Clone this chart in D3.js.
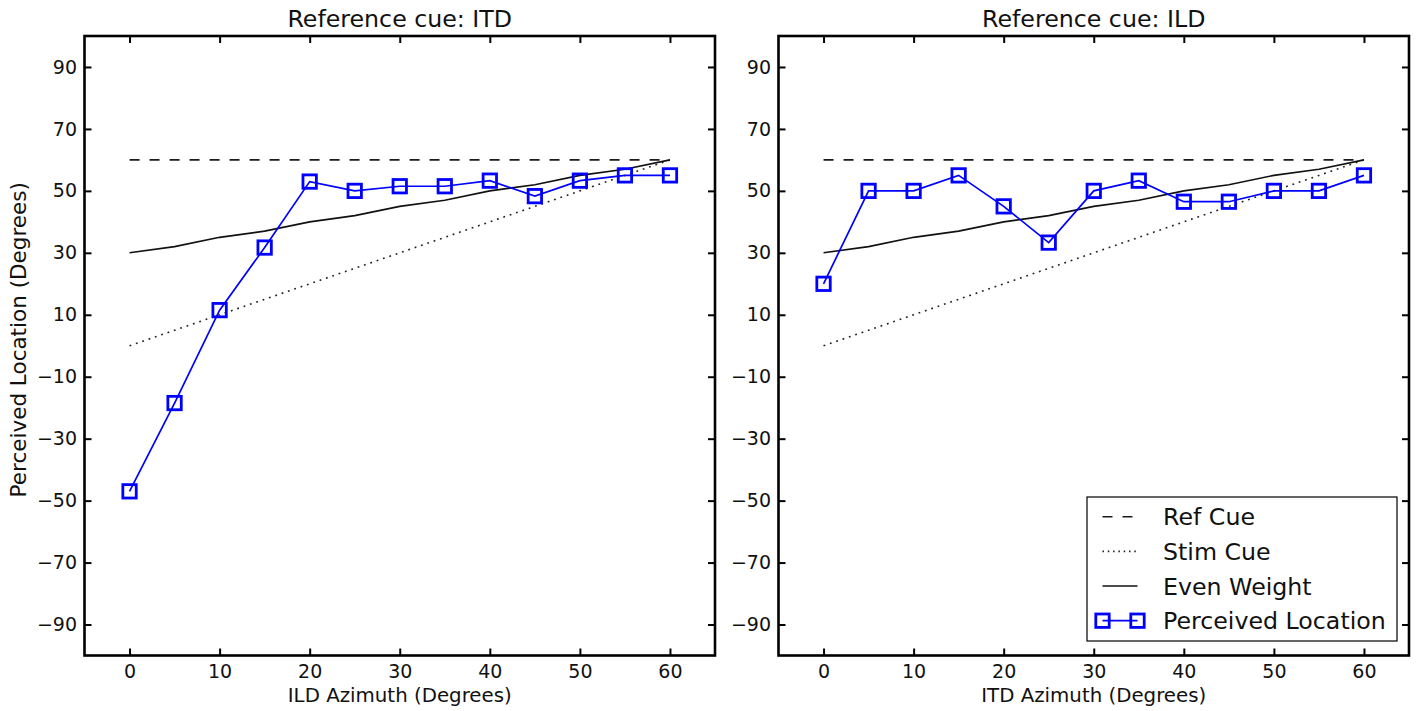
<!DOCTYPE html>
<html>
<head>
<meta charset="utf-8">
<script src="https://cdn.jsdelivr.net/npm/d3@7"></script>
<style>
  body { margin: 0; background: #fff; }
  text { font-family: "DejaVu Sans", sans-serif; fill: #111; }
</style>
</head>
<body>
<script>
// data
var azimuth = [0, 5, 10, 15, 20, 25, 30, 35, 40, 45, 50, 55, 60];
var refCue = [60, 60, 60, 60, 60, 60, 60, 60, 60, 60, 60, 60, 60];
var stimCue = [0, 5, 10, 15, 20, 25, 30, 35, 40, 45, 50, 55, 60];
var evenWeight = [30, 32, 35, 37, 40, 42, 45, 47, 50, 52, 55, 57, 60];
var perceivedITD = [-47, -18.5, 11.5, 31.7, 53, 50, 51.5, 51.5, 53.3, 48.3, 53.3, 55, 55];
var perceivedILD = [20, 50, 50, 55, 45, 33.3, 50, 53.3, 46.5, 46.5, 50, 50, 55];
var xTicks = [0, 10, 20, 30, 40, 50, 60];
var yTicks = [-90, -70, -50, -30, -10, 10, 30, 50, 70, 90];
var titles = ["Reference cue: ITD", "Reference cue: ILD"];
var xLabels = ["ILD Azimuth (Degrees)", "ITD Azimuth (Degrees)"];
var legendNames = ["Ref Cue", "Stim Cue", "Even Weight", "Perceived Location"];

var W = 1416, H = 711;
var pw = 630.5, ph = 619.5, plotTop = 36;
var lefts = [84.5, 778.5];
var mk = 13.4;

var svg = d3.select("body")
            .append("svg")
            .attr("width", W)
            .attr("height", H);

var xScale = d3.scaleLinear().domain([-5, 65]).range([0, pw]);
var yScale = d3.scaleLinear().domain([-100, 100]).range([ph, 0]);

var styles = {
    "Ref Cue": {dash: "10,10", width: 1.6, color: "#1a1a1a"},
    "Stim Cue": {dash: "1.8,4.9", width: 1.6, color: "#222"},
    "Even Weight": {dash: null, width: 1.6, color: "#111"},
    "Perceived Location": {dash: null, width: 1.7, color: "#0000ff"}
};

var line = d3.line()
             .x(d => xScale(d[0]))
             .y(d => yScale(d[1]));

var drawSeries = function(g, name, values) {
    var st = styles[name];
    var pts = d3.zip(azimuth, values);
    g.append("path")
     .datum(pts)
     .attr("d", line)
     .attr("fill", "none")
     .attr("stroke", st.color)
     .attr("stroke-width", st.width)
     .attr("stroke-dasharray", st.dash);
    if (name == "Perceived Location") {
        g.selectAll("rect.mk")
         .data(pts)
         .enter()
         .append("rect")
         .attr("class", "mk")
         .attr("x", d => xScale(d[0]) - mk / 2)
         .attr("y", d => yScale(d[1]) - mk / 2)
         .attr("width", mk)
         .attr("height", mk)
         .attr("fill", "none")
         .attr("stroke", st.color)
         .attr("stroke-width", 2.8);
    }
};

var perceived = [perceivedITD, perceivedILD];

for (var p = 0; p < 2; p++) {
    var g = svg.append("g")
               .attr("transform", "translate(" + lefts[p] + "," + plotTop + ")");

    drawSeries(g, "Ref Cue", refCue);
    drawSeries(g, "Stim Cue", stimCue);
    drawSeries(g, "Even Weight", evenWeight);
    drawSeries(g, "Perceived Location", perceived[p]);

    // axes, ticks pointing inward
    var bottomAx = g.append("g")
                  .attr("transform", "translate(0," + ph + ")")
                  .call(d3.axisBottom(xScale).tickValues(xTicks).tickSize(-7).tickPadding(9));
    var leftAx = g.append("g")
                .call(d3.axisLeft(yScale).tickValues(yTicks).tickSize(-7).tickPadding(7.5));
    var topAx = g.append("g")
                 .call(d3.axisTop(xScale).tickValues(xTicks).tickSize(-7).tickFormat(""));
    var rightAx = g.append("g")
                   .attr("transform", "translate(" + pw + ",0)")
                   .call(d3.axisRight(yScale).tickValues(yTicks).tickSize(-7).tickFormat(""));

    [bottomAx, leftAx, topAx, rightAx].forEach(function(a) {
        a.select(".domain").remove();
        a.selectAll(".tick line").attr("stroke", "#000").attr("stroke-width", 2);
        a.selectAll(".tick text")
         .style("font-family", "DejaVu Sans")
         .style("font-size", "19px")
         .attr("fill", "#111");
    });

    g.append("rect")
     .attr("width", pw)
     .attr("height", ph)
     .attr("fill", "none")
     .attr("stroke", "#000")
     .attr("stroke-width", 2.6);

    g.append("text")
     .attr("x", pw / 2)
     .attr("y", -9)
     .attr("text-anchor", "middle")
     .style("font-size", "23.7px")
     .text(titles[p]);

    g.append("text")
     .attr("x", pw / 2)
     .attr("y", ph + 46)
     .attr("text-anchor", "middle")
     .style("font-size", "19.8px")
     .text(xLabels[p]);
}

// y label only on the left panel
svg.append("text")
   .attr("transform", "translate(26," + (plotTop + ph / 2 - 6) + ") rotate(-90)")
   .attr("text-anchor", "middle")
   .style("font-size", "21.5px")
   .text("Perceived Location (Degrees)");

// legend in the right panel
var lg = svg.append("g")
            .attr("transform", "translate(1087,497)");

lg.append("rect")
  .attr("width", 310)
  .attr("height", 144)
  .attr("fill", "#fff")
  .attr("stroke", "#000")
  .attr("stroke-width", 1.2);

var rowY = d3.scaleLinear().domain([0, 3]).range([19.7, 123.7]);

legendNames.forEach(function(name, i) {
    var st = styles[name];
    var y = rowY(i);
    lg.append("line")
      .attr("x1", 15.5)
      .attr("x2", 50.5)
      .attr("y1", y)
      .attr("y2", y)
      .attr("stroke", st.color)
      .attr("stroke-width", st.width)
      .attr("stroke-dasharray", name == "Stim Cue" ? "1.5,3.8" : st.dash);
    if (name == "Perceived Location") {
        [15.5, 50.5].forEach(function(mx) {
            lg.append("rect")
              .attr("x", mx - mk / 2)
              .attr("y", y - mk / 2)
              .attr("width", mk)
              .attr("height", mk)
              .attr("fill", "none")
              .attr("stroke", st.color)
              .attr("stroke-width", 2.8);
        });
    }
    lg.append("text")
      .attr("x", 76)
      .attr("y", y)
      .attr("dy", "0.36em")
      .style("font-size", "23.7px")
      .text(name);
});
</script>
</body>
</html>
